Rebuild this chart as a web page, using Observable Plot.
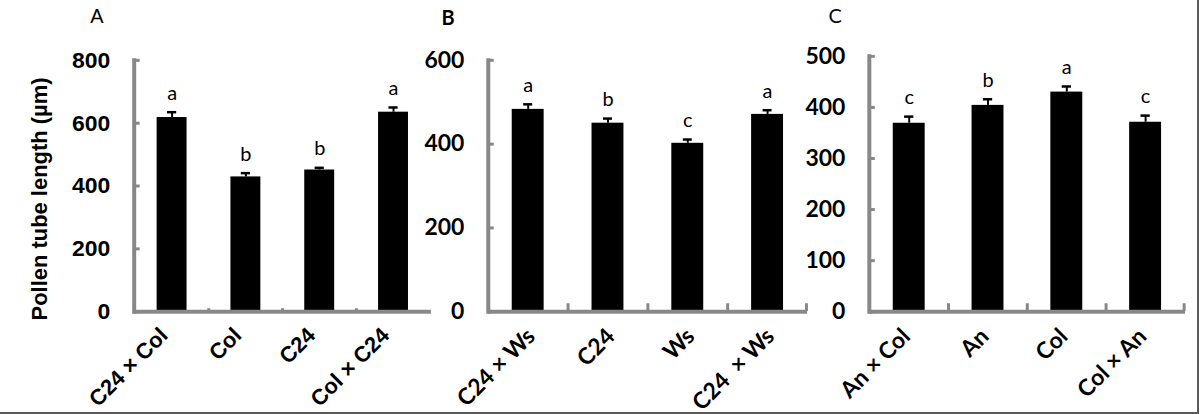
<!DOCTYPE html>
<html>
<head>
<meta charset="utf-8">
<script src="https://cdn.jsdelivr.net/npm/d3@7"></script>
<script src="https://cdn.jsdelivr.net/npm/@observablehq/plot@0.6"></script>
<style>
  html, body { margin: 0; padding: 0; background: #fff; }
  #wrap { position: relative; width: 1197px; height: 412px; border-right: 2px solid #5a5a5a; border-bottom: 2px solid #5a5a5a; overflow: hidden; }
  #wrap svg { position: absolute; left: 0; top: 0; }
</style>
</head>
<body>
<div id="wrap"></div>
<script>
// ---- data ----
const yTitle = "Pollen tube length (µm)";

const panelA = "A";
const catsA = ["C24 × Col", "Col", "C24", "Col × C24"];
const meansA = [618, 429, 451, 635];
const errA = [17, 12, 7, 15];
const lettersA = ["a", "b", "b", "a"];
const ticksA = [0, 200, 400, 600, 800];

const panelB = "B";
const catsB = ["C24 × Ws", "C24", "Ws", "C24  × Ws"];
const meansB = [483, 450, 402, 471];
const errB = [12, 11, 9, 10];
const lettersB = ["a", "b", "c", "a"];
const ticksB = [0, 200, 400, 600];

const panelC = "C";
const catsC = ["An × Col", "An", "Col", "Col × An"];
const meansC = [369, 404, 430, 371];
const errC = [13, 12, 11, 13];
const lettersC = ["c", "b", "a", "c"];
const ticksC = [0, 100, 200, 300, 400, 500];

// ---- drawing ----
const W = 1200, H = 414;
const gray = "#888888";

function panel(cfg) {
  const {cats, means, errs, letters, ticks, ml, mr, mt, mb, font, tickFont, labelFont, xFontSize, xdx, xdy,
         panelLabel, panelDx, panelDy, panelWeight, endTick, xtickLen, title} = cfg;
  const rows = cats.map((c, i) => ({cat: c, v: means[i], e: errs[i], l: letters[i]}));
  const ymax = ticks[ticks.length - 1];
  const pxPerUnit = (H - mt - mb) / ymax;
  const step = (W - ml - mr) / cats.length;
  const bw = step * 0.4;
  const capInset = (bw - 9) / 2;
  const tl = xtickLen / pxPerUnit;
  const marks = [
    Plot.barY(rows, {x: "cat", y: "v", fill: "black"}),
    Plot.ruleX(rows, {x: "cat", y1: "v", y2: d => d.v + d.e, stroke: "black", strokeWidth: 2}),
    Plot.tickY(rows, {x: "cat", y: d => d.v + d.e, stroke: "black", strokeWidth: 2.5, insetLeft: capInset, insetRight: capInset}),
    Plot.text(rows, {x: "cat", y: d => d.v + d.e, text: "l", dy: -19, fontSize: 20, fontFamily: labelFont, fill: "black"}),
    // category boundary ticks
    Plot.ruleX(cats.slice(1), {x: d => d, dx: -step / 2, y1: 0, y2: tl, stroke: gray, strokeWidth: 3}),
    ...(endTick ? [Plot.ruleX([cats[cats.length - 1]], {x: d => d, dx: step / 2 - 1, y1: 0, y2: tl, stroke: gray, strokeWidth: 3})] : []),
    Plot.frame({anchor: "left", stroke: gray, strokeWidth: 4}),
    Plot.ruleY([0], {stroke: gray, strokeWidth: 4}),
    Plot.axisY({ticks, label: null, tickSize: -6, tickPadding: 30, stroke: gray, strokeWidth: 3, fill: "black",
                fontSize: 23, fontWeight: "bold", fontFamily: tickFont, tickFormat: d => d}),
    Plot.text(cats, {x: d => d, frameAnchor: "bottom", rotate: -45, textAnchor: "end", lineAnchor: "middle",
                     dx: xdx, dy: xdy, fontSize: xFontSize, fontWeight: "bold", fontFamily: font, fill: "black"}),
    Plot.text([panelLabel], {frameAnchor: "top-left", textAnchor: "start", lineAnchor: "top", dx: panelDx, dy: panelDy, fontSize: 20,
                     fontFamily: font, fill: "black", fontWeight: panelWeight})
  ];
  if (title) {
    marks.push(Plot.text([title], {frameAnchor: "left", rotate: -90, textAnchor: "middle", lineAnchor: "middle",
                     dx: -94, dy: 13, fontSize: 22, fontWeight: "bold", fontFamily: font, fill: "black"}));
  }
  return Plot.plot({
    width: W, height: H,
    marginLeft: ml, marginRight: mr, marginTop: mt, marginBottom: mb,
    style: {background: "transparent", overflow: "visible"},
    x: {type: "band", domain: cats, paddingInner: 0.6, paddingOuter: 0.3, axis: null},
    y: {domain: [0, ymax], axis: null},
    marks
  });
}

const wrap = document.getElementById("wrap");
wrap.appendChild(panel({
  cats: catsA, means: meansA, errs: errA, letters: lettersA, ticks: ticksA,
  ml: 134, mr: W - 432, mt: 60, mb: H - 312,
  font: "Liberation Sans, Arial, sans-serif", tickFont: "Liberation Sans, Arial, sans-serif", xFontSize: 22, xdx: -8, xdy: 20,
  labelFont: "Lato, sans-serif", panelLabel: panelA, panelDx: -44, panelDy: -52, panelWeight: "normal",
  endTick: false, xtickLen: 3, title: yTitle
}));
wrap.appendChild(panel({
  cats: catsB, means: meansB, errs: errB, letters: lettersB, ticks: ticksB,
  ml: 489, mr: W - 809, mt: 60, mb: H - 312,
  font: "Lato, sans-serif", tickFont: "Lato, sans-serif", xFontSize: 23, xdx: 3, xdy: 21,
  labelFont: "Lato, sans-serif", panelLabel: panelB, panelDx: -47, panelDy: -50, panelWeight: "bold",
  endTick: true, xtickLen: 8
}));
wrap.appendChild(panel({
  cats: catsC, means: meansC, errs: errC, letters: lettersC, ticks: ticksC,
  ml: 871, mr: W - 1188, mt: 56, mb: H - 312,
  font: "Lato, sans-serif", tickFont: "Lato, sans-serif", xFontSize: 23, xdx: -3, xdy: 21,
  labelFont: "Lato, sans-serif", panelLabel: panelC, panelDx: -41, panelDy: -48, panelWeight: "normal",
  endTick: true, xtickLen: 8
}));
</script>
</body>
</html>
